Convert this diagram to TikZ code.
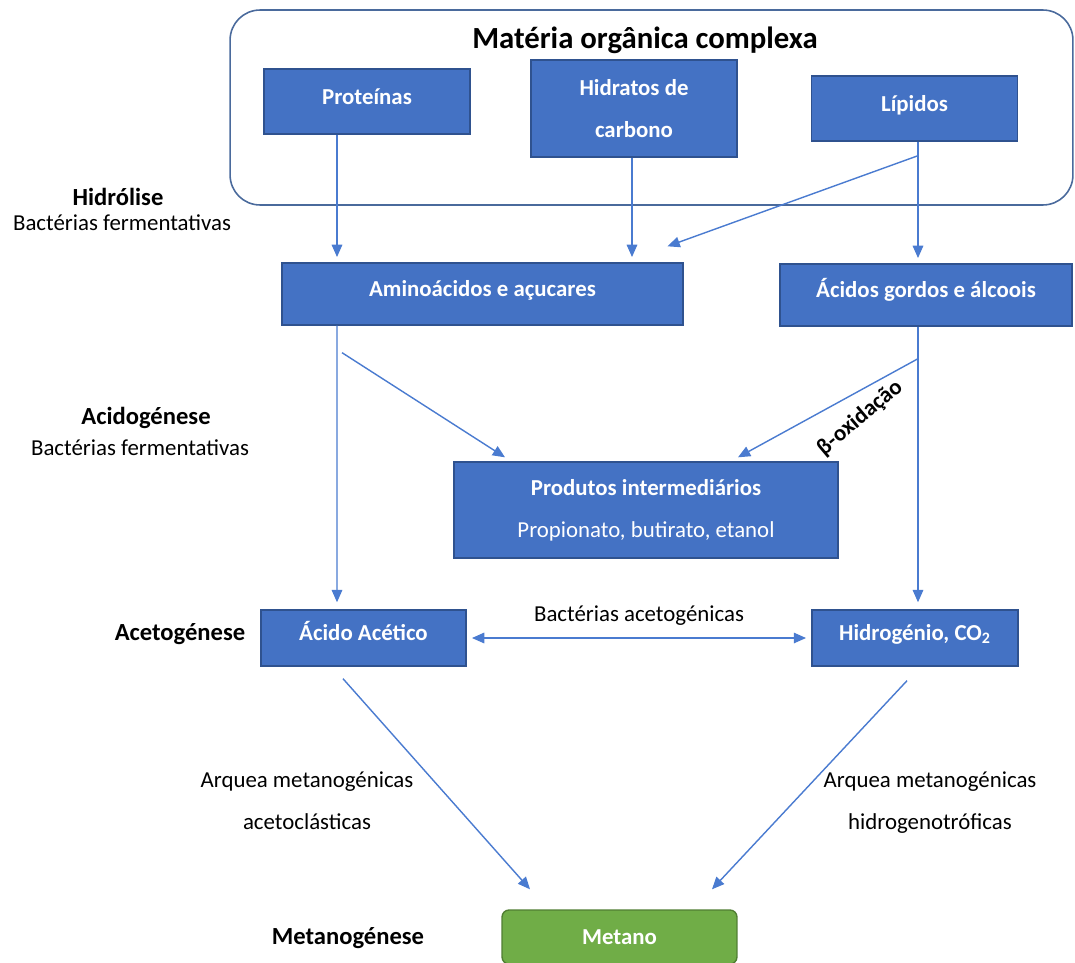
\documentclass[tikz,border=0pt]{standalone}
\usepackage{fontspec}
\setmainfont{Carlito}
\usetikzlibrary{arrows.meta}

\definecolor{boxBlue}{HTML}{4472C4}
\definecolor{boxBorder}{HTML}{2F528F}
\definecolor{arrowBlue}{HTML}{4A7BD0}
\definecolor{frameBlue}{HTML}{4A6A9C}
\definecolor{boxGreen}{HTML}{70AD47}
\definecolor{greenBorder}{HTML}{507E32}

\newcommand{\arrowLineWidth}{0.8pt}
\newcommand{\boxWidth}{4.12cm}
\newcommand{\boxHeight}{1.3cm}
\newcommand{\textFont}{\fontsize{13}{24}\selectfont}
\newcommand{\stageFont}{\bfseries\fontsize{14}{16}\selectfont}

\tikzset{
  stagebox/.style={draw=boxBorder, line width=0.8pt, fill=boxBlue, text=white,
    font=\bfseries\textFont, align=center, inner sep=0pt},
  oneline/.style={text height=8pt, text depth=5pt},
  stagelabel/.style={font=\stageFont, align=center, inner sep=0pt},
  sublabel/.style={font=\textFont, align=center, inner sep=0pt},
  flow/.style={draw=arrowBlue, line width=\arrowLineWidth, -{Triangle[length=7pt,width=6pt]}},
  flowboth/.style={draw=arrowBlue, line width=\arrowLineWidth,
    {Triangle[length=7pt,width=6pt]}-{Triangle[length=7pt,width=6pt]}},
}

\begin{document}
\begin{tikzpicture}[x=0.02cm, y=-0.02cm]
        \useasboundingbox (0,0) rectangle (1075,963);

        % Complex organic matter
        \node[draw=frameBlue, line width=0.9pt, rounded corners=0.6cm, minimum width=16.86cm, minimum height=3.9cm] (materia) at (651.5,107.5) {};
        \node[font=\bfseries\fontsize{17.5}{20}\selectfont] (title) at (645,40) {Matéria orgânica complexa};
        \node[stagebox, oneline, minimum width=\boxWidth, minimum height=\boxHeight] (prot) at (367,101.5) {Proteínas};
        \node[stagebox, minimum width=\boxWidth, minimum height=1.94cm] (hidr) at (634,108.5) {Hidratos de\\carbono};
        \node[stagebox, oneline, minimum width=\boxWidth, minimum height=\boxHeight] (lip) at (914.5,108.5) {Lípidos};

        % Stage labels
        \node[stagelabel] (hidrolise) at (118,197) {Hidrólise};
        \node[sublabel] (hidrolisebact) at (122,223) {Bactérias fermentativas};
        \node[stagelabel] (acidog) at (146,418) {Acidogénese};
        \node[sublabel] (acidogbact) at (140,448) {Bactérias fermentativas};
        \node[stagelabel] (acetog) at (180,634) {Acetogénese};
        \node[stagelabel] (metanog) at (348,938) {Metanogénese};

        % Hydrolysis products
        \node[stagebox, oneline, minimum width=8.02cm, minimum height=1.24cm] (amino) at (482.5,294) {Aminoácidos e açucares};
        \node[stagebox, oneline, minimum width=5.84cm, minimum height=1.24cm] (acgord) at (926,295) {Ácidos gordos e álcoois};

        % Intermediate products
        \node[stagebox, minimum width=7.68cm, minimum height=1.92cm] (prod) at (646,510) {Produtos intermediários\\\mdseries Propionato, butirato, etanol};

        % Acetogenesis
        \node[stagebox, oneline, minimum width=4.1cm, minimum height=1.12cm] (acet) at (363.5,638) {Ácido Acético};
        \node[stagebox, oneline, minimum width=\boxWidth, minimum height=1.12cm] (hidrog) at (915,638) {Hidrogénio, CO\textsubscript{2}};

        % Methane
        \node[stagebox, draw=greenBorder, fill=boxGreen, rounded corners=4pt, minimum width=4.7cm, minimum height=1.08cm] (metano) at (619.5,937) {Metano};

        % Hydrolysis arrows
        \draw[flow, shorten >=3pt] ([xshift=-0.6cm]prot.south) -- ([xshift=-0.6cm]prot.south |- amino.north);
        \draw[flow, shorten >=3pt] ([xshift=-0.04cm]hidr.south) -- ([xshift=-0.04cm]hidr.south |- amino.north);
        \draw[flow, shorten >=3pt] ([xshift=0.07cm]lip.south) -- ([xshift=0.07cm]lip.south |- acgord.north);
        \draw[flow] ([xshift=0.07cm,yshift=-0.28cm]lip.south) -- ([xshift=3.7cm,yshift=0.32cm]amino.north);

        % Acidogenesis arrows
        \draw[flow, shorten >=4pt] ([xshift=-2.91cm]amino.south) -- ([xshift=-0.53cm]acet.north);
        \draw[flow] ([xshift=-2.81cm,yshift=-0.54cm]amino.south) -- ([xshift=-2.82cm,yshift=0.08cm]prod.north);
        \draw[flow] ([xshift=-0.16cm,yshift=-0.64cm]acgord.south) -- ([xshift=1.84cm,yshift=0.08cm]prod.north);
        \node[font=\bfseries\textFont, rotate=40] (betaox) at (860,418) {β-oxidação};
        \draw[flow, shorten >=4pt] ([xshift=0.06cm]hidrog.north |- acgord.south) -- ([xshift=0.06cm]hidrog.north);

        % Acetogenesis arrow
        \draw[flowboth, shorten <=3pt, shorten >=3pt] (acet.east) -- node[sublabel, above=7pt] (acetobact) {Bactérias acetogénicas} (hidrog.east -| hidrog.west);

        % Methanogenesis arrows
        \draw[flow] ([xshift=-0.41cm,yshift=-0.24cm]acet.south) -- ([xshift=-1.79cm,yshift=0.4cm]metano.north);
        \draw[flow] ([xshift=-0.16cm,yshift=-0.28cm]hidrog.south) -- ([xshift=1.85cm,yshift=0.4cm]metano.north);
        \node[sublabel] (acetoclast) at (307,801) {Arquea metanogénicas\\acetoclásticas};
        \node[sublabel] (hidrogeno) at (930,803) {Arquea metanogénicas\\hidrogenotróficas};
\end{tikzpicture}
\end{document}
